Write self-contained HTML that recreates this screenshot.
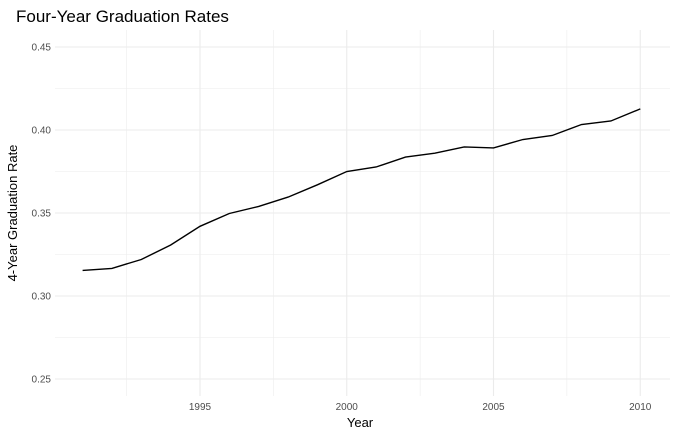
<!DOCTYPE html>
<html><head><meta charset="utf-8"><style>
body{margin:0;background:#fff;font-family:"Liberation Sans",sans-serif;}
svg{display:block}
</style></head><body>
<svg id="chart" width="677" height="437">
<text x="16" y="22" font-size="17" fill="#000">Four-Year Graduation Rates</text>
<g id="grid"></g>
<g id="axes"></g>
<path id="line" fill="none" stroke="#000" stroke-width="1.4"></path>
<text x="360" y="427" font-size="13" text-anchor="middle">Year</text>
<text transform="translate(17,213) rotate(-90)" font-size="13" text-anchor="middle">4-Year Graduation Rate</text>
</svg>
<script>
const years=[1991,1992,1993,1994,1995,1996,1997,1998,1999,2000,2001,2002,2003,2004,2005,2006,2007,2008,2009,2010];
const rates=[0.3154,0.3166,0.322,0.3307,0.342,0.3497,0.354,0.3596,0.367,0.375,0.3777,0.3837,0.386,0.3898,0.3892,0.3943,0.3967,0.4033,0.4054,0.4127];
const xTicks=[1995,2000,2005,2010];
const yTicks=[0.25,0.30,0.35,0.40,0.45];
const yTickLabels=["0.25","0.30","0.35","0.40","0.45"];
const L=55,R=670,T=30,B=396;
const x=v=>200+(v-1995)*29.35;
const y=v=>296-(v-0.30)*1660;
const ns="http://www.w3.org/2000/svg";
const grid=document.getElementById('grid'),axes=document.getElementById('axes');
function ln(x1,y1,x2,y2,w,name){const e=document.createElementNS(ns,'line');
e.setAttribute('x1',x1);e.setAttribute('y1',y1);e.setAttribute('x2',x2);e.setAttribute('y2',y2);
e.setAttribute('stroke','#ebebeb');e.setAttribute('stroke-width',w);


grid.appendChild(e);}
function tx(xx,yy,s,anchor,name){const e=document.createElementNS(ns,'text');
e.setAttribute('x',xx);e.setAttribute('y',yy);e.setAttribute('font-size','10');e.setAttribute('fill','#4d4d4d');e.setAttribute('text-anchor',anchor);e.textContent=s;


axes.appendChild(e);}
for(let i=0;i<yTicks.length;i++){const v=yTicks[i];
 ln(L,y(v),R,y(v),1.1,'y-major-gridline');
 if(i<yTicks.length-1) ln(L,y(v+0.025),R,y(v+0.025),0.55,'y-minor-gridline');
 tx(51,y(v)+3.5,yTickLabels[i],'end','y-tick-label');}
ln(L,y(0.225+0.25-0.25+0.0),R,y(0.225),0,'unused');
for(let i=0;i<xTicks.length;i++){const v=xTicks[i];
 ln(x(v),T,x(v),B,1.1,'x-major-gridline');
 ln(x(v-2.5),T,x(v-2.5),B,0.55,'x-minor-gridline');
 tx(x(v),410,String(v),'middle','x-tick-label');}
document.getElementById('line').setAttribute('d',years.map((v,i)=>(i?'L':'M')+x(v).toFixed(1)+','+y(rates[i]).toFixed(1)).join(''));
</script>
</body></html>
